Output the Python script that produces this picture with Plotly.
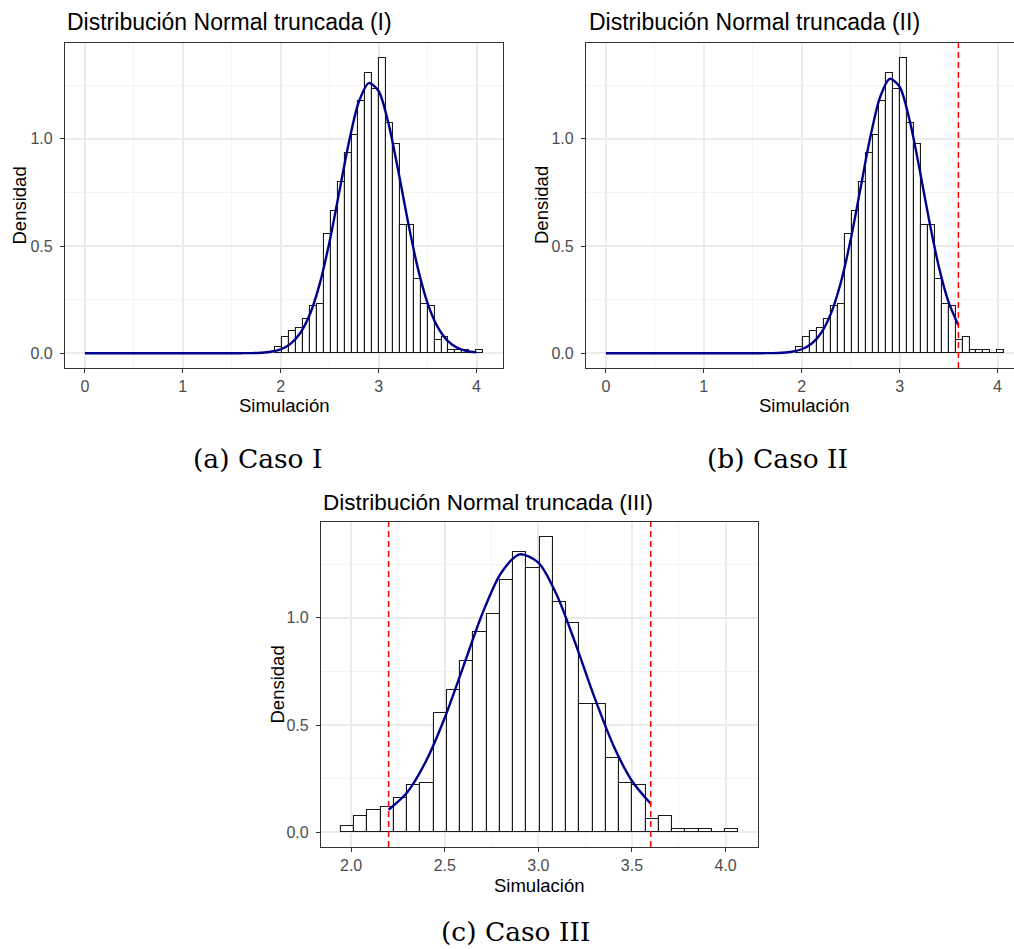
import numpy as np
import plotly.graph_objects as go

W, H = 1014, 949

# ---------------- data ----------------
bin_start = 1.945
bin_width = 0.07075
densidad = [0.031, 0.074, 0.104, 0.116, 0.158, 0.218, 0.229, 0.557, 0.664, 0.797,
            0.935, 1.020, 1.176, 1.305, 1.231, 1.378, 1.076, 0.978, 0.598, 0.598,
            0.344, 0.229, 0.218, 0.060, 0.074, 0.017, 0.017, 0.017, 0.0, 0.017]

curva_I_x = [0.0, 0.5, 1.0, 1.5, 1.6, 1.7, 1.8, 1.9, 2.0, 2.1, 2.2, 2.3, 2.4, 2.5, 2.6,
             2.7, 2.8, 2.9, 3.0, 3.1, 3.2, 3.3, 3.4, 3.5, 3.6, 3.7, 3.8, 3.9, 4.0]
curva_I_y = [0.0, 0.0, 0.0, 0.0001, 0.0002, 0.0007, 0.0024, 0.0069, 0.0182, 0.0436,
             0.0942, 0.184, 0.326, 0.522, 0.756, 0.991, 1.175, 1.260, 1.223, 1.073,
             0.853, 0.613, 0.398, 0.234, 0.125, 0.060, 0.026, 0.0103, 0.0037]

curva_II_x = [0.0, 0.5, 1.0, 1.5, 1.6, 1.7, 1.8, 1.9, 2.0, 2.1, 2.2, 2.3, 2.4, 2.5, 2.6,
              2.7, 2.8, 2.9, 3.0, 3.1, 3.2, 3.3, 3.4, 3.5, 3.6]
curva_II_y = [0.0, 0.0, 0.0, 0.0001, 0.0002, 0.0007, 0.0024, 0.0070, 0.0185, 0.0443,
              0.0957, 0.187, 0.331, 0.530, 0.768, 1.007, 1.194, 1.280, 1.243, 1.090,
              0.867, 0.623, 0.404, 0.238, 0.130]

curva_III_x = [2.2, 2.3, 2.4, 2.5, 2.6, 2.7, 2.8, 2.9, 3.0, 3.1, 3.2, 3.3, 3.4, 3.5, 3.6]
curva_III_y = [0.105, 0.187, 0.332, 0.534, 0.775, 1.018, 1.208, 1.296, 1.257, 1.103,
               0.875, 0.628, 0.406, 0.239, 0.133]

cortes_II = [3.6]
cortes_III = [2.2, 3.6]

titulos = ["Distribución Normal truncada (I)",
           "Distribución Normal truncada (II)",
           "Distribución Normal truncada (III)"]
subtitulos = ["(a) Caso I", "(b) Caso II", "(c) Caso III"]
x_titulo = "Simulación"
y_titulo = "Densidad"

# ---------------- helpers ----------------
centros = bin_start + bin_width * (np.arange(len(densidad)) + 0.5)

def px(x):
    return x / W

def py(y):
    return 1 - y / H

SANS = "Liberation Sans, Arial, sans-serif"
TICK_COL = "#4D4D4D"
BORDER = "#333333"
GRID = "#EBEBEB"
GRID_MINOR = "#F4F4F4"

fig = go.Figure()

panels = [
    dict(xa="x", ya="y", dx=(65, 503), dy=(43, 368), xr=[-0.2034, 4.2707], dt=1, mdt=0.5,
         cx=curva_I_x, cy=curva_I_y, cuts=[], mirror_y=True),
    dict(xa="x2", ya="y2", dx=(586, 1014), dy=(43, 368), xr=[-0.2034, 4.168], dt=1, mdt=0.5,
         cx=curva_II_x, cy=curva_II_y, cuts=cortes_II, mirror_y=False),
    dict(xa="x3", ya="y3", dx=(321, 758), dy=(522, 847), xr=[1.839, 4.173], dt=0.5, mdt=0.25,
         cx=curva_III_x, cy=curva_III_y, cuts=cortes_III, mirror_y=True),
]

shapes = []
for i, p in enumerate(panels):
    fig.add_trace(go.Bar(
        x=centros, y=densidad, width=bin_width,
        marker=dict(color="white", line=dict(color="#1A1A1A", width=1.1)),
        xaxis=p["xa"], yaxis=p["ya"], showlegend=False, hoverinfo="skip"))
    fig.add_trace(go.Scatter(
        x=p["cx"], y=p["cy"], mode="lines",
        line=dict(color="#00008B", width=2.4, shape="spline", smoothing=0.8),
        xaxis=p["xa"], yaxis=p["ya"], showlegend=False))
    for c in p["cuts"]:
        shapes.append(dict(type="line", xref=p["xa"], yref=p["ya"] + " domain",
                           x0=c, x1=c, y0=0, y1=1,
                           line=dict(color="#FF0000", width=1.5, dash="6px,4px")))

    suffix = "" if i == 0 else str(i + 1)
    xaxis = dict(
        domain=[px(p["dx"][0]), px(p["dx"][1])], anchor=p["ya"], range=p["xr"],
        tick0=0, dtick=p["dt"], showgrid=True, gridcolor=GRID, gridwidth=1.6,
        minor=dict(dtick=p["mdt"], tick0=0, showgrid=True, gridcolor=GRID_MINOR,
                   gridwidth=1, ticklen=0),
        zeroline=False, showline=True, linecolor=BORDER, linewidth=1.3, mirror=True,
        ticks="outside", ticklen=4, tickcolor=BORDER, tickwidth=1.3,
        tickfont=dict(family=SANS, size=16, color=TICK_COL),
        tickformat=".1f" if i == 2 else "d")
    yaxis = dict(
        domain=[py(p["dy"][1]), py(p["dy"][0])], anchor=p["xa"], range=[-0.0689, 1.4469],
        tickvals=[0, 0.5, 1.0], ticktext=["0.0", "0.5", "1.0"],
        showgrid=True, gridcolor=GRID, gridwidth=1.6,
        minor=dict(tickvals=[0.25, 0.75, 1.25], showgrid=True, gridcolor=GRID_MINOR,
                   gridwidth=1, ticklen=0),
        zeroline=False, showline=True, linecolor=BORDER, linewidth=1.3,
        mirror=p["mirror_y"],
        ticks="outside", ticklen=4, tickcolor=BORDER, tickwidth=1.3,
        ticklabelstandoff=4,
        tickfont=dict(family=SANS, size=16, color=TICK_COL))
    fig.layout["xaxis" + suffix] = xaxis
    fig.layout["yaxis" + suffix] = yaxis

annotations = []
title_pos = [(65, 22, 23), (587, 22, 23), (321, 503, 22.5)]
for t, (x, y, s) in zip(titulos, title_pos):
    annotations.append(dict(text=t, x=px(x), y=py(y), xref="paper", yref="paper",
                            xanchor="left", yanchor="middle", showarrow=False,
                            font=dict(family=SANS, size=s, color="black")))
xt_pos = [(284, 405), (804.5, 405), (539.5, 885)]
for x, y in xt_pos:
    annotations.append(dict(text=x_titulo, x=px(x), y=py(y), xref="paper", yref="paper",
                            xanchor="center", yanchor="middle", showarrow=False,
                            font=dict(family=SANS, size=18.5, color="black")))
yt_pos = [(19, 205.5), (541.5, 205.5), (277, 684.5)]
for x, y in yt_pos:
    annotations.append(dict(text=y_titulo, x=px(x), y=py(y), xref="paper", yref="paper",
                            xanchor="center", yanchor="middle", showarrow=False,
                            textangle=-90,
                            font=dict(family=SANS, size=18.5, color="black")))
cap_pos = [(257, 458), (777, 458), (515.5, 931)]
for t, (x, y) in zip(subtitulos, cap_pos):
    annotations.append(dict(text=t, x=px(x), y=py(y), xref="paper", yref="paper",
                            xanchor="center", yanchor="middle", showarrow=False,
                            font=dict(family="DejaVu Serif, serif", size=26.5, color="black")))

fig.update_layout(
    width=W, height=H, margin=dict(l=0, r=0, t=0, b=0),
    paper_bgcolor="white", plot_bgcolor="white",
    bargap=0, shapes=shapes, annotations=annotations, showlegend=False)

fig.write_html("out.html", post_script="document.body.style.margin='0px';",
               config={"displayModeBar": False})
